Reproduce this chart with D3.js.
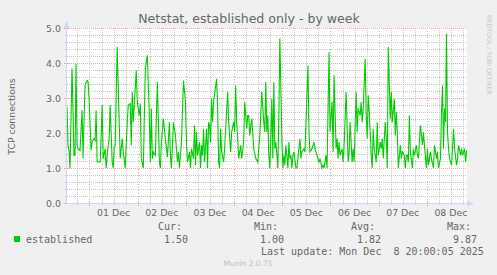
<!DOCTYPE html>
<html><head><meta charset="utf-8">
<script src="https://cdn.jsdelivr.net/npm/d3@7"></script>
<style>body{margin:0;background:#f0f0f0}svg{display:block}</style>
</head><body><svg id="c" width="497" height="275"></svg>
<script>
const title = "Netstat, established only - by week";
const yLabel = "TCP connections";
const seriesName = "established";
const watermark = "RRDTOOL / TOBI OETIKER";
const footer = "Munin 2.0.75";
const startTime = new Date(2025, 10, 30, 12, 48);
const endTime = new Date(2025, 11, 8, 20, 0);
const slotMinutes = 30;
const yTicks = [0, 1, 2, 3, 4, 5];
const yDomain = [0, 5];
const statLabels = ["Cur:", "Min:", "Avg:", "Max:"];
const statValues = ["1.50", "1.00", "1.82", "9.87"];
const lastUpdate = "Last update: Mon Dec  8 20:00:05 2025";
// [half-hour slot since start, connections]
const points = [
[0,2.74],[1,1.65],[2,1.50],[3,1.00],[5,3.84],[7,1.36],[8,1.36],[9,3.98],[10,1.65],[11,1.55],[13,1.50],[15,2.65],[16,1.27],[17,2.41],[18,3.36],[20,3.50],[21,3.46],[22,2.98],[24,1.50],[25,1.74],[27,1.84],[28,1.79],[29,2.65],[30,1.17],[33,1.17],[34,1.89],[35,2.80],[36,1.27],[38,1.55],[39,1.00],[41,1.65],[42,1.84],[43,2.80],[45,1.17],[46,1.00],[47,1.60],[48,1.65],[50,4.46],[52,2.31],[53,1.27],[55,1.84],[56,1.46],[58,1.00],[60,2.31],
[61,2.79],[63,2.84],[64,1.65],[65,3.17],[66,2.31],[69,3.79],[70,2.89],[72,2.50],[73,2.84],[74,1.27],[76,1.00],[78,3.84],[80,4.22],[82,2.50],[83,1.17],[84,2.70],[85,1.27],[86,1.46],[88,1.36],[89,2.41],[90,3.46],[92,1.17],[93,1.00],[94,1.74],[96,2.41],[98,1.84],[100,1.31],[102,2.31],[103,1.36],[104,1.00],[106,2.31],[108,1.93],[110,1.17],[111,1.46],[112,1.00],[114,1.74],[116,3.50],[118,2.89],[119,1.74],[120,1.17],[122,1.46],[123,1.00],[124,1.55],[126,1.27],[127,2.22],[128,1.08],
[129,2.03],[130,1.36],[132,1.74],[133,1.00],[134,1.65],[135,1.36],[136,2.12],[137,1.17],[139,2.12],[140,1.00],[141,2.31],[142,2.22],[143,1.74],[144,2.98],[145,2.31],[146,2.89],[149,3.55],[150,2.79],[151,1.17],[152,1.00],[153,2.12],[154,1.46],[156,1.17],[157,1.55],[160,3.17],[161,2.31],[163,1.46],[164,2.03],[166,2.31],[167,2.03],[168,3.36],[169,2.31],[170,1.84],[171,1.27],[173,1.65],[174,1.27],[176,1.74],[177,2.89],[179,2.12],[180,2.50],[181,2.50],[182,1.93],[184,2.41],[185,2.03],[186,1.55],[188,1.27],[190,1.17],[191,1.55],[192,1.93],[194,3.17],[196,2.31],
[197,2.03],[198,3.46],[199,2.03],[200,2.50],[201,1.36],[202,1.00],[203,1.84],[204,2.98],[205,1.27],[206,3.46],[207,1.55],[208,1.74],[210,1.00],[211,2.50],[212,4.70],[214,1.84],[215,1.00],[216,1.36],[217,1.08],[218,1.65],[220,1.00],[221,1.74],[222,1.27],[223,1.36],[224,1.00],[225,1.36],[226,1.46],[228,1.00],[229,1.00],[232,1.84],[233,1.27],[234,1.46],[236,1.55],[237,1.46],[240,3.93],[241,2.03],[242,1.46],[244,1.55],[246,1.74],[247,1.55],[248,1.46],[249,1.36],[251,1.17],[252,1.27],[254,1.00],[255,1.08],[256,1.00],[258,1.36],[259,1.00],[261,4.31],[262,2.03],[264,2.89],
[265,1.46],[266,3.65],[268,1.55],[269,1.84],[270,1.27],[271,1.74],[272,1.36],[274,1.55],[275,1.17],[276,1.65],[278,3.17],[280,1.17],[281,1.46],[282,2.31],[284,1.17],[285,1.55],[286,1.17],[288,3.17],[289,2.03],[290,2.70],[292,2.50],[293,2.89],[294,2.31],[295,2.70],[297,4.12],[298,2.50],[299,1.84],[300,3.08],[301,2.60],[302,2.03],[303,1.36],[304,1.00],[305,2.12],[306,1.55],[308,1.17],[309,2.31],[310,1.36],[312,1.74],[313,1.55],[314,1.84],[315,1.27],[317,2.31],[318,1.84],[319,1.00],[320,4.46],[322,2.41],[323,3.17],[324,2.31],[326,2.98],[327,1.93],[328,2.60],[329,2.03],[330,1.00],[332,1.65],
[333,1.27],[334,1.46],[336,1.36],[337,1.00],[338,1.36],[339,1.36],[340,1.17],[341,2.50],[342,1.46],[344,1.00],[345,1.55],[346,1.36],[348,1.65],[349,1.36],[350,1.27],[352,2.22],[354,1.65],[355,2.03],[356,1.65],[358,1.00],[359,1.55],[360,1.08],[362,1.46],[363,1.27],[365,1.00],[366,1.65],[368,1.27],[369,1.46],[370,1.00],[372,1.27],[373,2.60],[374,3.36],[375,1.55],[376,2.70],[377,2.31],[378,4.84],[379,2.03],[380,1.55],[381,1.27],[383,1.08],[385,2.12],[386,1.55],[388,1.08],[389,1.27],[390,1.65],[392,1.36],[393,1.55],[394,1.36],[396,1.55],[397,1.17],[398,1.50]
];

const L = 67, T = 28, W = 400, H = 175;
const svg = d3.select("#c");
const FONT = "DejaVu Sans, Verdana, sans-serif";
const MONO = "DejaVu Sans Mono, monospace";
const fontCol = "#666666";
const axisCol = "#CFD6F8";
const minorCol = "#c8c8c8";
const majorCol = "#f4a8a8";
const lineCol = "#00cc00";

svg.append("rect").attr("width", 497).attr("height", 275).attr("fill", "#f0f0f0");
svg.append("rect").attr("x", L).attr("y", T).attr("width", W).attr("height", H).attr("fill", "#ffffff");

const x = d3.scaleTime().domain([startTime, endTime]).range([L, L + W]);
const y = d3.scaleLinear().domain(yDomain).range([T + H, T]);
const slotDate = s => new Date(startTime.getTime() + s * slotMinutes * 60000);
const px = v => Math.round(v) + 0.5;

const grid = svg.append("g").attr("shape-rendering", "crispEdges");
// horizontal grid
const minorY = d3.range(1, 25).map(i => i * 0.2).filter(v => Math.abs(v - Math.round(v)) > 1e-6);
grid.selectAll(".hmin").data(minorY).join("line")
  .attr("x1", L).attr("x2", L + W).attr("y1", d => px(y(d))).attr("y2", d => px(y(d)))
  .attr("stroke", minorCol).attr("stroke-dasharray", "1,1");
// vertical grid
const sixH = d3.timeHour.every(6).range(startTime, endTime).filter(d => d.getHours() !== 0);
const days = d3.timeDay.range(d3.timeDay.ceil(startTime), endTime);
grid.selectAll(".vmin").data(sixH).join("line")
  .attr("x1", d => px(x(d))).attr("x2", d => px(x(d))).attr("y1", T).attr("y2", T + H)
  .attr("stroke", minorCol).attr("stroke-dasharray", "1,1");
grid.selectAll(".hmaj").data(yTicks.filter(v => v > 0)).join("line")
  .attr("x1", L).attr("x2", L + W).attr("y1", d => px(y(d))).attr("y2", d => px(y(d)))
  .attr("stroke", majorCol).attr("stroke-dasharray", "1,1");
grid.selectAll(".vmaj").data(days).join("line")
  .attr("x1", d => px(x(d))).attr("x2", d => px(x(d))).attr("y1", T).attr("y2", T + H)
  .attr("stroke", majorCol).attr("stroke-dasharray", "1,2");

// ticks on axes
const ax = svg.append("g").attr("shape-rendering", "crispEdges");
ax.selectAll(".xtmin").data(sixH).join("line")
  .attr("x1", d => px(x(d))).attr("x2", d => px(x(d))).attr("y1", T + H - 1).attr("y2", T + H + 2)
  .attr("stroke", minorCol);
ax.selectAll(".xtmaj").data(days).join("line")
  .attr("x1", d => px(x(d))).attr("x2", d => px(x(d))).attr("y1", T + H - 2).attr("y2", T + H + 3)
  .attr("stroke", majorCol);
ax.selectAll(".ytmin").data(minorY).join("line")
  .attr("x1", L - 2).attr("x2", L + 1).attr("y1", d => px(y(d))).attr("y2", d => px(y(d)))
  .attr("stroke", minorCol);
ax.selectAll(".ytmaj").data(yTicks).join("line")
  .attr("x1", L - 3).attr("x2", L + 2).attr("y1", d => px(y(d))).attr("y2", d => px(y(d)))
  .attr("stroke", majorCol);

// data line
svg.append("clipPath").attr("id", "clip").append("rect")
  .attr("x", L).attr("y", T).attr("width", W).attr("height", H);
const line = d3.line().x(d => x(slotDate(d[0]))).y(d => y(d[1]));
svg.append("path").datum(points).attr("d", line).attr("fill", "none")
  .attr("stroke", lineCol).attr("stroke-width", 1.1).attr("clip-path", "url(#clip)");

// axis lines and arrows
ax.append("line").attr("x1", px(L - 1)).attr("x2", px(L - 1)).attr("y1", T).attr("y2", T + H + 1).attr("stroke", axisCol);
ax.append("line").attr("x1", L - 1).attr("x2", L + W + 2).attr("y1", px(T + H)).attr("y2", px(T + H)).attr("stroke", axisCol);
svg.append("path").attr("d", d3.line()([[L - 0.5, T - 7], [L - 3.5, T], [L + 2.5, T]])).attr("fill", axisCol);
svg.append("path").attr("d", d3.line()([[L + W + 7, T + H + 0.5], [L + W, T + H - 2.5], [L + W, T + H + 3.5]])).attr("fill", axisCol);

// y labels
svg.selectAll(".yl").data(yTicks).join("text")
  .attr("x", L - 6).attr("y", d => y(d) + 3.5).attr("text-anchor", "end")
  .attr("font-family", FONT).attr("font-size", 9.4).attr("fill", fontCol)
  .text(d => d3.format(".1f")(d));
// x labels at noon
const fmt = d3.timeFormat("%d %b");
svg.selectAll(".xl").data(days).join("text")
  .attr("x", d => x(d3.timeHour.offset(d, 12))).attr("y", T + H + 13).attr("text-anchor", "middle")
  .attr("font-family", FONT).attr("font-size", 9.4).attr("fill", fontCol)
  .text(d => fmt(d));

// title
const tt = svg.append("text").attr("x", 249).attr("y", 23).attr("text-anchor", "middle")
  .attr("font-family", FONT).attr("font-size", 12).attr("fill", fontCol).text(title);
const tl = tt.node().getComputedTextLength();
tt.attr("font-size", 12 * 222 / tl);

// y axis label
svg.append("text").attr("transform", `translate(15,${T + H / 2 + 1}) rotate(-90)`)
  .attr("text-anchor", "middle").attr("font-family", FONT).attr("font-size", 9.3)
  .attr("fill", fontCol).text(yLabel);

// watermark
svg.append("text").attr("transform", "translate(487,15) rotate(90)")
  .attr("font-family", FONT).attr("font-size", 6.2).attr("fill", "#c8c8c8").text(watermark);

// legend
const statX = [158, 254, 351, 447];
svg.selectAll(".sl").data(statLabels).join("text")
  .attr("x", (d, i) => statX[i]).attr("y", 230)
  .attr("font-family", MONO).attr("font-size", 10).attr("fill", fontCol).text(d => d);
svg.selectAll(".sv").data(statValues).join("text")
  .attr("x", (d, i) => statX[i] + 6).attr("y", 242.5)
  .attr("font-family", MONO).attr("font-size", 10).attr("fill", fontCol).text(d => d);
svg.append("rect").attr("x", 14).attr("y", 236).attr("width", 6).attr("height", 6).attr("fill", lineCol);
svg.append("text").attr("x", 26).attr("y", 242.5).attr("font-family", MONO).attr("font-size", 10)
  .attr("fill", fontCol).text(seriesName);
svg.append("text").attr("x", 261).attr("y", 254.5).attr("font-family", MONO).attr("font-size", 10)
  .attr("fill", fontCol).attr("xml:space", "preserve").style("white-space", "pre").text(lastUpdate);
svg.append("text").attr("x", 248).attr("y", 266).attr("text-anchor", "middle")
  .attr("font-family", FONT).attr("font-size", 7.5).attr("fill", "#c0c0c0").text(footer);
</script></body></html>
